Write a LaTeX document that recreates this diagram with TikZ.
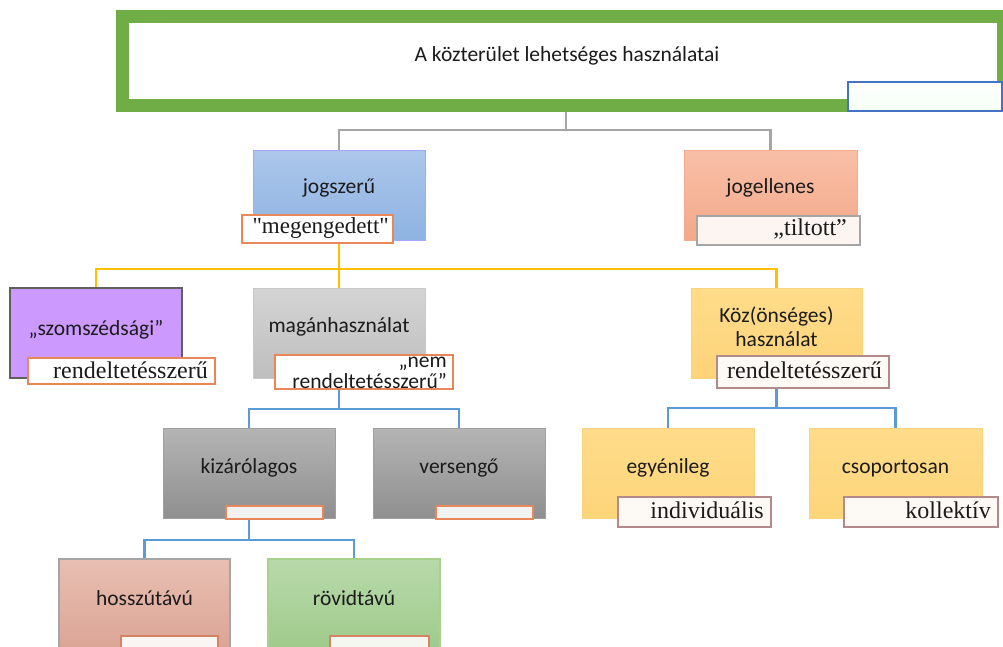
\documentclass[tikz,border=0pt]{standalone}
\usepackage{fontspec}
\setmainfont{Liberation Serif}
\newfontfamily\plainserif{Liberation Serif}
\newfontfamily\sansf{Carlito}
\pgfdeclarelayer{bg}
\pgfsetlayers{bg,main}
\definecolor{txt}{HTML}{1B1B1B}
\definecolor{mygreen}{HTML}{70AD47}
\definecolor{myblue}{HTML}{4472C4}
\definecolor{connGray}{HTML}{A5A5A5}
\definecolor{connYellow}{HTML}{FFC000}
\definecolor{connBlue}{HTML}{5B9BD5}
\definecolor{labOrange}{HTML}{E8875A}
\definecolor{labGray}{HTML}{A6A6A6}
\definecolor{labBrown}{HTML}{B38A8A}
\tikzset{
  box/.style={rectangle, anchor=north west, inner sep=0pt, outer sep=0pt, line width=0.8pt},
  sbox/.style={box, minimum width=#1pt, minimum height=90pt},
  lab/.style={rectangle, anchor=north west, inner sep=0pt, outer sep=0pt, line width=1.3pt, fill=white},
  boxtext/.style={font=\sansf\fontsize{21.5}{24}\selectfont, text=txt, inner sep=0pt, align=center},
  labtext/.style={font=\fontsize{24}{26}\selectfont, text=txt, inner sep=0pt, anchor=east},
  conn/.style={line width=2.5pt},
}
\begin{document}
\begin{tikzpicture}[x=1pt,y=-1pt]
\useasboundingbox (0,0) rectangle (1003,646);

% main box
\node[box, draw=mygreen, line width=13pt, fill=white, minimum width=881pt, minimum height=88.5pt] (main) at (122.5,16.5) {};
\node[boxtext] (title) at ([xshift=4pt,yshift=5pt]main.center) {A közterület lehetséges használatai};
\node[box, draw=myblue, line width=1.5pt, top color=white, bottom color=green!4!white, minimum width=154pt, minimum height=29pt] (corner) at (848,82) {};

% level 1
\node[sbox=172, draw=blue!35!white, top color={rgb,255:red,172;green,198;blue,234}, bottom color={rgb,255:red,142;green,179;blue,226}] (jog) at (253,150) {};
\node[boxtext] (tjog) at ([yshift=7pt]jog.center) {jogszerű};
\node[lab, draw=labOrange, minimum width=151pt, minimum height=28pt] (ljog) at (242,215) {};
\node[labtext, font=\plainserif\fontsize{23}{25}\selectfont] (tljog) at ([xshift=-4pt,yshift=1pt]ljog.east) {"megengedett"};

\node[sbox=173, draw={rgb,255:red,244;green,170;blue,140}, top color={rgb,255:red,248;green,192;blue,168}, bottom color={rgb,255:red,244;green,168;blue,136}] (jogell) at (684,150) {};
\node[boxtext] (tjogell) at ([yshift=7pt]jogell.center) {jogellenes};
\node[lab, draw=labGray, fill={rgb,255:red,253;green,245;blue,242}, minimum width=163pt, minimum height=29pt] (ljogell) at (697,216) {};
\node[labtext] (tljogell) at ([xshift=-13pt,yshift=1pt]ljogell.east) {„tiltott”};

% level 2
\node[sbox=172, draw={rgb,255:red,95;green,95;blue,95}, line width=2pt, fill={rgb,255:red,204;green,153;blue,255}] (szom) at (10,288) {};
\node[boxtext] (tszom) at ([yshift=3pt]szom.center) {„szomszédsági”};
\node[lab, draw=labOrange, minimum width=187pt, minimum height=26pt] (lszom) at (28,358) {};
\node[labtext] (tlszom) at ([xshift=-7pt,yshift=1pt]lszom.east) {rendeltetésszerű};

\node[sbox=172, draw={rgb,255:red,200;green,200;blue,200}, top color={rgb,255:red,212;green,212;blue,212}, bottom color={rgb,255:red,190;green,190;blue,190}] (magan) at (253,288) {};
\node[boxtext] (tmagan) at ([yshift=6pt]magan.center) {magánhasználat};
\node[lab, draw=labOrange, minimum width=178pt, minimum height=34pt] (lmagan) at (275,355) {};
\node[boxtext, anchor=east, align=right, font=\sansf\fontsize{21.5}{21}\selectfont] (tlmagan) at ([xshift=-6pt,yshift=-1pt]lmagan.east) {„nem\\rendeltetésszerű”};

\node[sbox=171, draw={rgb,255:red,250;green,212;blue,125}, top color={rgb,255:red,255;green,220;blue,138}, bottom color={rgb,255:red,253;green,211;blue,122}] (koz) at (691,288) {};
\node[boxtext, font=\sansf\fontsize{21.5}{24}\selectfont] (tkoz) at ([yshift=6pt]koz.center) {Köz(önséges)\\használat};
\node[lab, draw=labBrown, fill={rgb,255:red,253;green,249;blue,245}, minimum width=172pt, minimum height=32pt] (lkoz) at (717,356) {};
\node[labtext] (tlkoz) at ([xshift=-7pt,yshift=2pt]lkoz.east) {rendeltetésszerű};

% level 3
\node[sbox=172, draw={rgb,255:red,160;green,160;blue,160}, top color={rgb,255:red,180;green,180;blue,180}, bottom color={rgb,255:red,143;green,143;blue,143}] (kizar) at (163,428) {};
\node[boxtext] (tkizar) at ([yshift=5pt]kizar.center) {kizárólagos};
\node[lab, draw=labOrange, fill={rgb,255:red,242;green,242;blue,242}, minimum width=97pt, minimum height=13pt] (lkizar) at (226,506) {};

\node[sbox=172, draw={rgb,255:red,160;green,160;blue,160}, top color={rgb,255:red,180;green,180;blue,180}, bottom color={rgb,255:red,143;green,143;blue,143}] (vers) at (373,428) {};
\node[boxtext] (tvers) at ([yshift=5pt]vers.center) {versengő};
\node[lab, draw=labOrange, fill={rgb,255:red,242;green,242;blue,242}, minimum width=97pt, minimum height=13pt] (lvers) at (436,506) {};

\node[sbox=172, draw={rgb,255:red,250;green,212;blue,125}, top color={rgb,255:red,255;green,220;blue,138}, bottom color={rgb,255:red,253;green,213;blue,122}] (egy) at (582,428) {};
\node[boxtext] (tegy) at ([yshift=5pt]egy.center) {egyénileg};
\node[lab, draw=labBrown, fill={rgb,255:red,253;green,249;blue,245}, minimum width=153pt, minimum height=30pt] (legy) at (618,497) {};
\node[labtext] (tlegy) at ([xshift=-7pt,yshift=2pt]legy.east) {individuális};

\node[sbox=173, draw={rgb,255:red,250;green,212;blue,125}, top color={rgb,255:red,255;green,220;blue,138}, bottom color={rgb,255:red,253;green,213;blue,122}] (csop) at (809,428) {};
\node[boxtext] (tcsop) at ([yshift=5pt]csop.center) {csoportosan};
\node[lab, draw=labBrown, fill={rgb,255:red,253;green,249;blue,245}, minimum width=154pt, minimum height=30pt] (lcsop) at (844,497) {};
\node[labtext] (tlcsop) at ([xshift=-7pt,yshift=2pt]lcsop.east) {kollektív};

% level 4
\node[box, draw={rgb,255:red,165;green,165;blue,165}, line width=1.2pt, top color={rgb,255:red,232;green,191;blue,178}, bottom color={rgb,255:red,218;green,163;blue,147}, minimum width=171pt, minimum height=95pt] (hossz) at (59,559) {};
\node[boxtext] (thossz) at (hossz.center |- 0,598) {hosszútávú};
\node[lab, draw=labOrange!80!gray, fill={rgb,255:red,250;green,245;blue,242}, minimum width=97pt, minimum height=16pt] (lhossz) at (121,636) {};

\node[box, draw={rgb,255:red,169;green,209;blue,142}, line width=1.2pt, top color={rgb,255:red,184;green,217;blue,170}, bottom color={rgb,255:red,158;green,202;blue,138}, minimum width=172pt, minimum height=95pt] (rovid) at (268,559) {};
\node[boxtext] (trovid) at (rovid.center |- 0,598) {rövidtávú};
\node[lab, draw=labOrange!80!gray, fill={rgb,255:red,243;green,247;blue,240}, minimum width=99pt, minimum height=16pt] (lrovid) at (330,636) {};

% connectors
\coordinate (g1) at (0,130);
\coordinate (y1) at (0,269);
\coordinate (b1) at (0,409);
\coordinate (b2) at (0,408);
\coordinate (b3) at (0,540);
\coordinate (mainbot) at ([xshift=3pt]main.south);
\begin{pgfonlayer}{bg}
\draw[conn, connGray] (mainbot) -- (mainbot |- g1) -| (jog.north);
\draw[conn, connGray] (mainbot |- g1) -| (jogell.north);
\draw[conn, connYellow] (jog.south) -- (jog.south |- y1) -| (szom.north);
\draw[conn, connYellow] (jog.south |- y1) -| (magan.north);
\draw[conn, connYellow] (jog.south |- y1) -| (koz.north);
\draw[conn, connBlue] (magan.south) -- (magan.south |- b1) -| (kizar.north);
\draw[conn, connBlue] (magan.south |- b1) -| (vers.north);
\draw[conn, connBlue] (koz.south) -- (koz.south |- b2) -| (egy.north);
\draw[conn, connBlue] (koz.south |- b2) -| (csop.north);
\draw[conn, connBlue] (kizar.south) -- (kizar.south |- b3) -| (hossz.north);
\draw[conn, connBlue] (kizar.south |- b3) -| (rovid.north);
\end{pgfonlayer}
\end{tikzpicture}
\end{document}
